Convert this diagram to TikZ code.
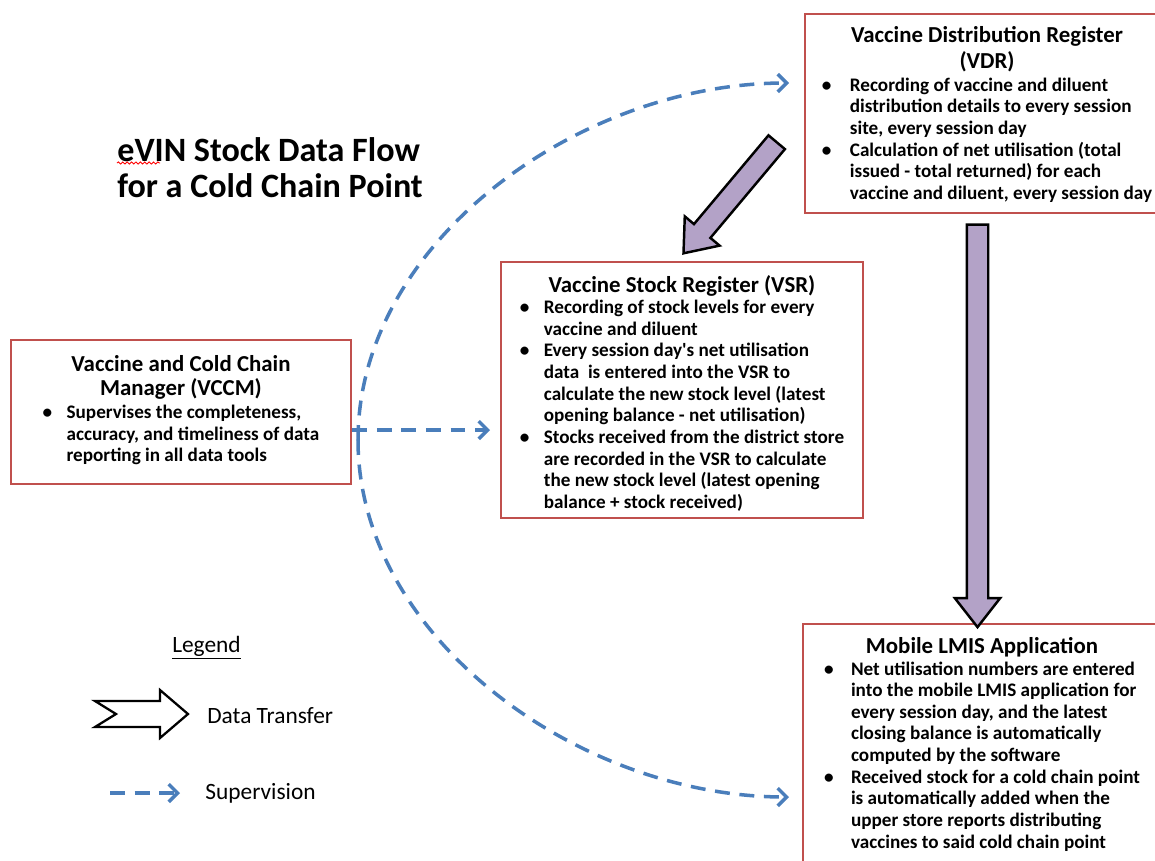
\documentclass[tikz,border=0pt]{standalone}
\usepackage{fontspec}
\setmainfont{Carlito}
\usetikzlibrary{arrows.meta,shapes.arrows,decorations.pathmorphing}

\definecolor{boxred}{HTML}{C0504D}
\definecolor{supblue}{HTML}{4A7EBB}
\definecolor{flowpurple}{HTML}{B3A2C7}

\newcommand{\regfont}{\fontsize{10.9}{12.3}\selectfont\bfseries}
\newcommand{\headfont}{\fontsize{13}{14}\selectfont\bfseries}
\newcommand{\legfont}{\fontsize{13.3}{15}\selectfont}
\newcommand{\lowered}[2]{\raisebox{-#1}[\height][\depth]{#2}}

\begin{document}
\begin{tikzpicture}
\tikzset{register/.style = {shape=rectangle, draw=boxred, line width=1.3pt, inner sep=0pt, font=\regfont}}
\tikzset{supervise/.style = {draw=supblue, line width=2pt, dash pattern=on 8.5pt off 5.5pt, -{Straight Barb[length=5pt,width=10pt]}}}
\tikzset{transfer/.style = {single arrow, draw=black, fill=flowpurple, line width=1.4pt, inner sep=0.19cm, single arrow head extend=0.24cm, single arrow tip angle=76}}

\useasboundingbox (0,0) rectangle (23.1,-17.2);

% title
\node[anchor=west, align=left, inner sep=0pt, font=\fontsize{19.4}{20.4}\selectfont\bfseries] (title) at (2.34,-3.36)
  {eVIN Stock Data Flow\\for a Cold Chain Point};
\draw[red, line width=0.5pt, decorate, decoration={snake, amplitude=0.6pt, segment length=2.5pt}]
  (title.west |- 0,-3.26) -- ++(0.86,0);

% registers
\node[register, minimum width=7.28cm, minimum height=3.98cm] (vdr) at (19.74,-2.27) {\lowered{1.5pt}{%
\begin{tabular}{@{}p{0.56cm}@{}l@{}}
\multicolumn{2}{c}{\headfont Vaccine Distribution Register}\\[1.5pt]
\multicolumn{2}{c}{\headfont (VDR)}\\[0.5pt]
\textbullet & Recording of vaccine and diluent\\
 & distribution details to every session\\
 & site, every session day\\
\textbullet & Calculation of net utilisation (total\\
 & issued - total returned) for each\\
 & vaccine and diluent, every session day
\end{tabular}}};

\node[register, minimum width=7.24cm, minimum height=5.12cm] (vsr) at (13.64,-7.8) {\lowered{2.8pt}{%
\begin{tabular}{@{}p{0.48cm}@{}l@{}}
\multicolumn{2}{c}{\headfont Vaccine Stock Register (VSR)}\\[0pt]
\textbullet & Recording of stock levels for every\\
 & vaccine and diluent\\
\textbullet & Every session day\textquotesingle s net utilisation\\
 & data\ \ is entered into the VSR to\\
 & calculate the new stock level (latest\\
 & opening balance - net utilisation)\\
\textbullet & Stocks received from the district store\\
 & are recorded in the VSR to calculate\\
 & the new stock level (latest opening\\
 & balance + stock received)
\end{tabular}}};

\node[register, minimum width=6.8cm, minimum height=2.88cm] (vccm) at (3.62,-8.24) {%
\begin{tabular}{@{}p{0.48cm}@{}l@{}}
\multicolumn{2}{c}{\headfont Vaccine and Cold Chain}\\
\multicolumn{2}{c}{\headfont Manager (VCCM)}\\[1pt]
\textbullet & Supervises the completeness,\\
 & accuracy, and timeliness of data\\
 & reporting in all data tools
\end{tabular}};

\node[register, minimum width=7.16cm, minimum height=4.76cm] (lmis) at (19.64,-14.86) {\lowered{1.7pt}{%
\begin{tabular}{@{}p{0.54cm}@{}l@{}}
\multicolumn{2}{c}{\headfont Mobile LMIS Application}\\
\textbullet & Net utilisation numbers are entered\\
 & into the mobile LMIS application for\\
 & every session day, and the latest\\
 & closing balance is automatically\\
 & computed by the software\\
\textbullet & Received stock for a cold chain point\\
 & is automatically added when the\\
 & upper store reports distributing\\
 & vaccines to said cold chain point
\end{tabular}}};

% data transfer
\node[transfer, minimum height=2.9cm, rotate=230] (tovsr) at (14.69,-3.85) {};
\node[transfer, minimum height=8.05cm, rotate=-90] (tolmis) at (19.55,-8.38) {};

% supervision
\coordinate (hub) at (7.16,-8.8);
\coordinate (vdrin) at (15.78,-1.66);
\coordinate (lmisin) at (15.78,-15.94);
\coordinate (vsrin) at (9.8,-8.6);
\draw[supervise] (hub) .. controls +(0,3.95) and +(-4.2,0) .. (vdrin);
\draw[supervise] (hub) .. controls +(0,-3.95) and +(-4.2,0) .. (lmisin);
\draw[supervise] (vccm.east |- vsrin) -- (vsrin);

% legend
\node[font=\legfont] (legend) at (4.13,-12.96) {\underline{Legend}};
\draw[line width=1.3pt, line join=miter] (1.9,-14.02) -- (3.2,-14.02) -- (3.2,-13.8) -- (3.76,-14.28)
  -- (3.2,-14.76) -- (3.2,-14.54) -- (1.9,-14.54) -- (2.32,-14.28) -- cycle;
\node[anchor=west, inner sep=0pt, font=\legfont] (datalabel) at (4.14,-14.32) {Data Transfer};
\coordinate (supa) at (2.2,-15.86);
\coordinate (supb) at (3.6,-15.86);
\draw[supervise] (supa) -- (supb);
\node[anchor=west, inner sep=0pt, font=\legfont] (suplabel) at (4.1,-15.86) {Supervision};

\end{tikzpicture}
\end{document}
